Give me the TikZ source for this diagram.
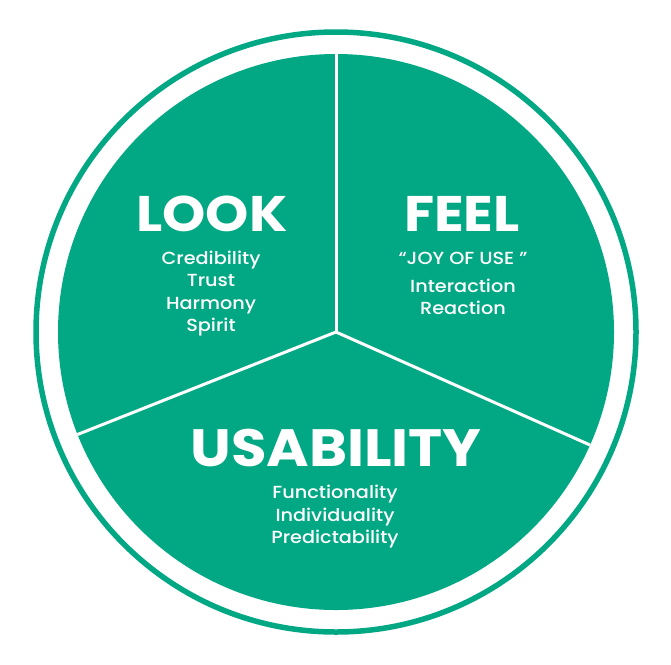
\documentclass[tikz,border=0pt]{standalone}
\usepackage{fontspec}
\setmainfont{Poppins}
\newfontfamily\titlefont{Poppins}[FakeStretch=1.1]
\IfFontExistsTF{Poppins Medium}{%
  \newfontfamily\subfont{Poppins Medium}[FakeStretch=1.1]}{%
  \newfontfamily\subfont{Poppins}[FakeStretch=1.1, FakeBold=1]}
\definecolor{brandgreen}{HTML}{02A884}
\tikzset{
  title/.style={text=white, font=\titlefont\fontsize{50}{50}\selectfont\bfseries, anchor=base, inner sep=0pt},
  bigtitle/.style={title, font=\titlefont\fontsize{52.5}{52.5}\selectfont\bfseries},
  sub/.style={text=white, font=\subfont\fontsize{17.5}{22.6}\selectfont, anchor=base, inner sep=0pt},
  spoke/.style={white, line width=3pt},
}
\begin{document}
\begin{tikzpicture}[x=1pt,y=-1pt]
\useasboundingbox (0,0) rectangle (671,664);
\coordinate (c) at (336,332);
% outer ring
\draw[brandgreen, line width=5.5pt] (c) circle[radius=300pt];
% disc
\fill[brandgreen] (c) circle[radius=278pt];
% spokes
\coordinate (top) at (336,52);
\coordinate (left) at (77.5,434.5);
\coordinate (right) at (590,445);
\draw[spoke] (c) -- (top);
\draw[spoke] (c) -- (left);
\draw[spoke] (c) -- (right);
% titles
\node[title] (look) at (212,231.7) {LOOK};
\node[title] (feel) at (462,231.7) {FEEL};
\node[bigtitle] (usab) at (336,466.7) {USABILITY};
% LOOK list
\node[sub] (l1) at (211,264) {Credibility};
\node[sub] (l2) at (211,286.7) {Trust};
\node[sub] (l3) at (211,309.3) {Harmony};
\node[sub] (l4) at (211,331.9) {Spirit};
% FEEL list
\node[sub] (f1) at (463,264.3) {“JOY OF USE ”};
\node[sub] (f2) at (463,292.3) {Interaction};
\node[sub] (f3) at (463,314) {Reaction};
% USABILITY list
\node[sub] (u1) at (335,498.3) {Functionality};
\node[sub] (u2) at (335,521) {Individuality};
\node[sub] (u3) at (335,543.6) {Predictability};
\end{tikzpicture}
\end{document}
